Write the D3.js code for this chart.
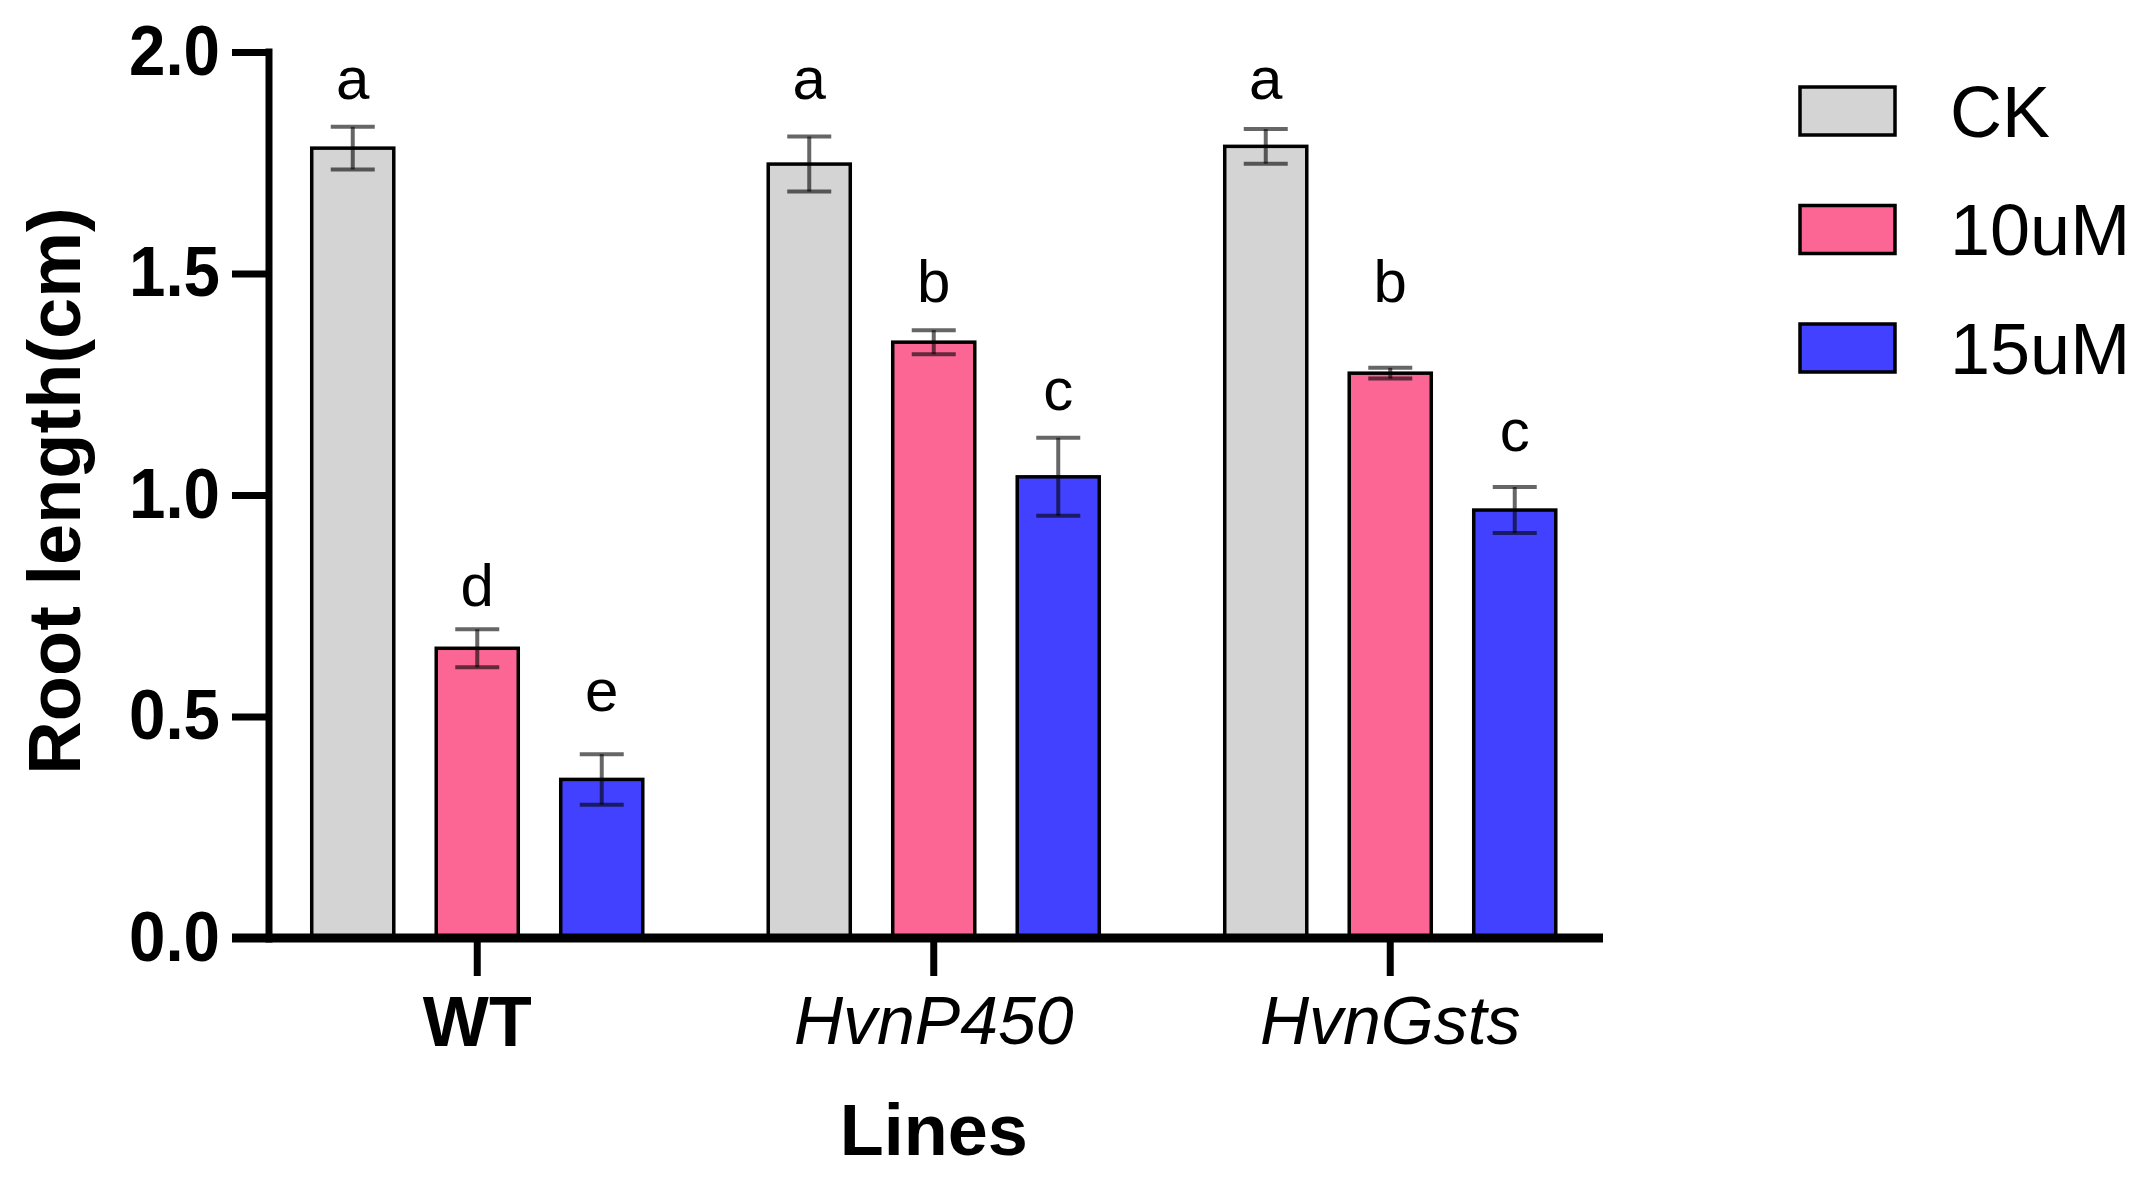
<!DOCTYPE html>
<html lang="en">
<head>
    <meta charset="UTF-8">
    <title>Root length</title>
    <script src="https://d3js.org/d3.v7.min.js"></script>
    <style>
        body { margin: 0; background: #fff; }
        svg { display: block; font-family: "Liberation Sans", Arial, sans-serif; }
    </style>
</head>
<body>
    <svg width="2144" height="1178"></svg>
    <script>
        // data
        const groups = ["WT", "HvnP450", "HvnGsts"];
        const series = ["CK", "10uM", "15uM"];
        const colors = ["#D4D4D4", "#FB6695", "#4141FF"];

        const ckMean = [1.783, 1.747, 1.787];
        const ckErr = [0.048, 0.062, 0.039];
        const um10Mean = [0.654, 1.345, 1.275];
        const um10Err = [0.043, 0.027, 0.012];
        const um15Mean = [0.358, 1.041, 0.966];
        const um15Err = [0.057, 0.088, 0.052];

        // significance letters and the level (in cm) where each one sits
        const ckLetters = ["a", "a", "a"];
        const um10Letters = ["d", "b", "b"];
        const um15Letters = ["e", "c", "c"];
        const ckLetterAt = [1.895, 1.895, 1.895];
        const um10LetterAt = [0.749, 1.435, 1.435];
        const um15LetterAt = [0.512, 1.192, 1.099];

        const yTicks = [0, 0.5, 1.0, 1.5, 2.0];

        const means = [ckMean, um10Mean, um15Mean];
        const errs = [ckErr, um10Err, um15Err];
        const letters = [ckLetters, um10Letters, um15Letters];
        const letterAt = [ckLetterAt, um10LetterAt, um15LetterAt];

        const rows = [];
        groups.forEach((g, gi) => {
            series.forEach((s, si) => {
                rows.push({group: g, series: s, si: si,
                    value: means[si][gi], err: errs[si][gi],
                    letter: letters[si][gi], letterAt: letterAt[si][gi]});
            });
        });

        const svg = d3.select("svg");

        const axisLeftX = 269, axisY = 938;
        const x0 = d3.scaleBand().domain(groups).range([249, 1618.5]);
        const x1 = d3.scaleBand().domain(series)
            .range([-186.75, 186.75]).paddingInner(0.341).paddingOuter(0.1705);
        const y = d3.scaleLinear().domain([0, 2]).range([axisY, 52]);

        const cx = d => x0(d.group) + x0.bandwidth() / 2 + x1(d.series) + x1.bandwidth() / 2;

        // bars
        svg.append("g").selectAll("rect").data(rows).join("rect")
            .attr("x", d => cx(d) - x1.bandwidth() / 2)
            .attr("y", d => y(d.value))
            .attr("width", x1.bandwidth())
            .attr("height", d => y(0) - y(d.value))
            .attr("fill", d => colors[d.si])
            .attr("stroke", "#000")
            .attr("stroke-width", 3.5);

        // error bars
        const eb = svg.append("g")
            .attr("stroke", "#000")
            .attr("stroke-opacity", 0.6)
            .attr("stroke-width", 4);
        const capW = 22;
        eb.selectAll(".stem").data(rows).join("line")
            .attr("x1", cx).attr("x2", cx)
            .attr("y1", d => y(d.value + d.err))
            .attr("y2", d => y(d.value - d.err));
        eb.selectAll(".capTop").data(rows).join("line")
            .attr("x1", d => cx(d) - capW).attr("x2", d => cx(d) + capW)
            .attr("y1", d => y(d.value + d.err)).attr("y2", d => y(d.value + d.err));
        eb.selectAll(".capBot").data(rows).join("line")
            .attr("x1", d => cx(d) - capW).attr("x2", d => cx(d) + capW)
            .attr("y1", d => y(d.value - d.err)).attr("y2", d => y(d.value - d.err));

        // significance letters
        svg.append("g").selectAll("text").data(rows).join("text")
            .attr("x", cx)
            .attr("y", d => y(d.letterAt))
            .attr("text-anchor", "middle")
            .attr("font-size", 60)
            .attr("fill", "#000")
            .text(d => d.letter);

        // y axis
        const yAxis = svg.append("g")
            .attr("transform", `translate(${axisLeftX},0)`)
            .call(d3.axisLeft(y).tickValues(yTicks).tickFormat(d3.format(".1f"))
                .tickSize(37).tickSizeOuter(0).tickPadding(12));
        yAxis.select(".domain").attr("stroke-width", 7)
            .attr("d", `M0,${52 - 3.5}V${axisY + 4.5}`);
        yAxis.selectAll(".tick line").attr("stroke-width", 7);
        yAxis.selectAll(".tick text")
            .attr("font-size", 70).attr("font-weight", "bold")
            .attr("font-family", "'Liberation Sans', Arial, sans-serif")
            .attr("textLength", 91).attr("lengthAdjust", "spacingAndGlyphs")
            .attr("fill", "#000");

        // x axis
        const xAxis = svg.append("g")
            .attr("transform", `translate(0,${axisY})`)
            .call(d3.axisBottom(x0).tickSize(38).tickSizeOuter(0).tickPadding(20));
        xAxis.select(".domain").attr("stroke-width", 9)
            .attr("d", `M232,0H1603`);
        xAxis.selectAll(".tick line").attr("stroke-width", 7);
        xAxis.selectAll(".tick text")
            .attr("font-size", d => d === "WT" ? 70 : 68)
            .attr("font-family", "'Liberation Sans', Arial, sans-serif")
            .attr("font-weight", d => d === "WT" ? "bold" : "normal")
            .attr("font-style", d => d === "WT" ? "normal" : "italic")
            .attr("fill", "#000");

        // axis titles
        svg.append("text")
            .attr("transform", `translate(80,491) rotate(-90)`)
            .attr("text-anchor", "middle")
            .attr("font-size", 74).attr("font-weight", "bold")
            .text("Root length(cm)");

        svg.append("text")
            .attr("x", x0("HvnP450") + x0.bandwidth() / 2)
            .attr("y", 1155)
            .attr("text-anchor", "middle")
            .attr("font-size", 72).attr("font-weight", "bold")
            .text("Lines");

        // legend
        const legY = d3.scalePoint().domain(series).range([111, 348]);
        const leg = svg.append("g").selectAll("g").data(series).join("g")
            .attr("transform", s => `translate(1800,${legY(s)})`);
        leg.append("rect")
            .attr("x", 0).attr("y", -24).attr("width", 95).attr("height", 48)
            .attr("fill", (s, i) => colors[i])
            .attr("stroke", "#000").attr("stroke-width", 3.5);
        leg.append("text")
            .attr("x", 150).attr("y", 0).attr("dy", "0.36em")
            .attr("font-size", 72)
            .text(s => s);
    </script>
</body>
</html>
